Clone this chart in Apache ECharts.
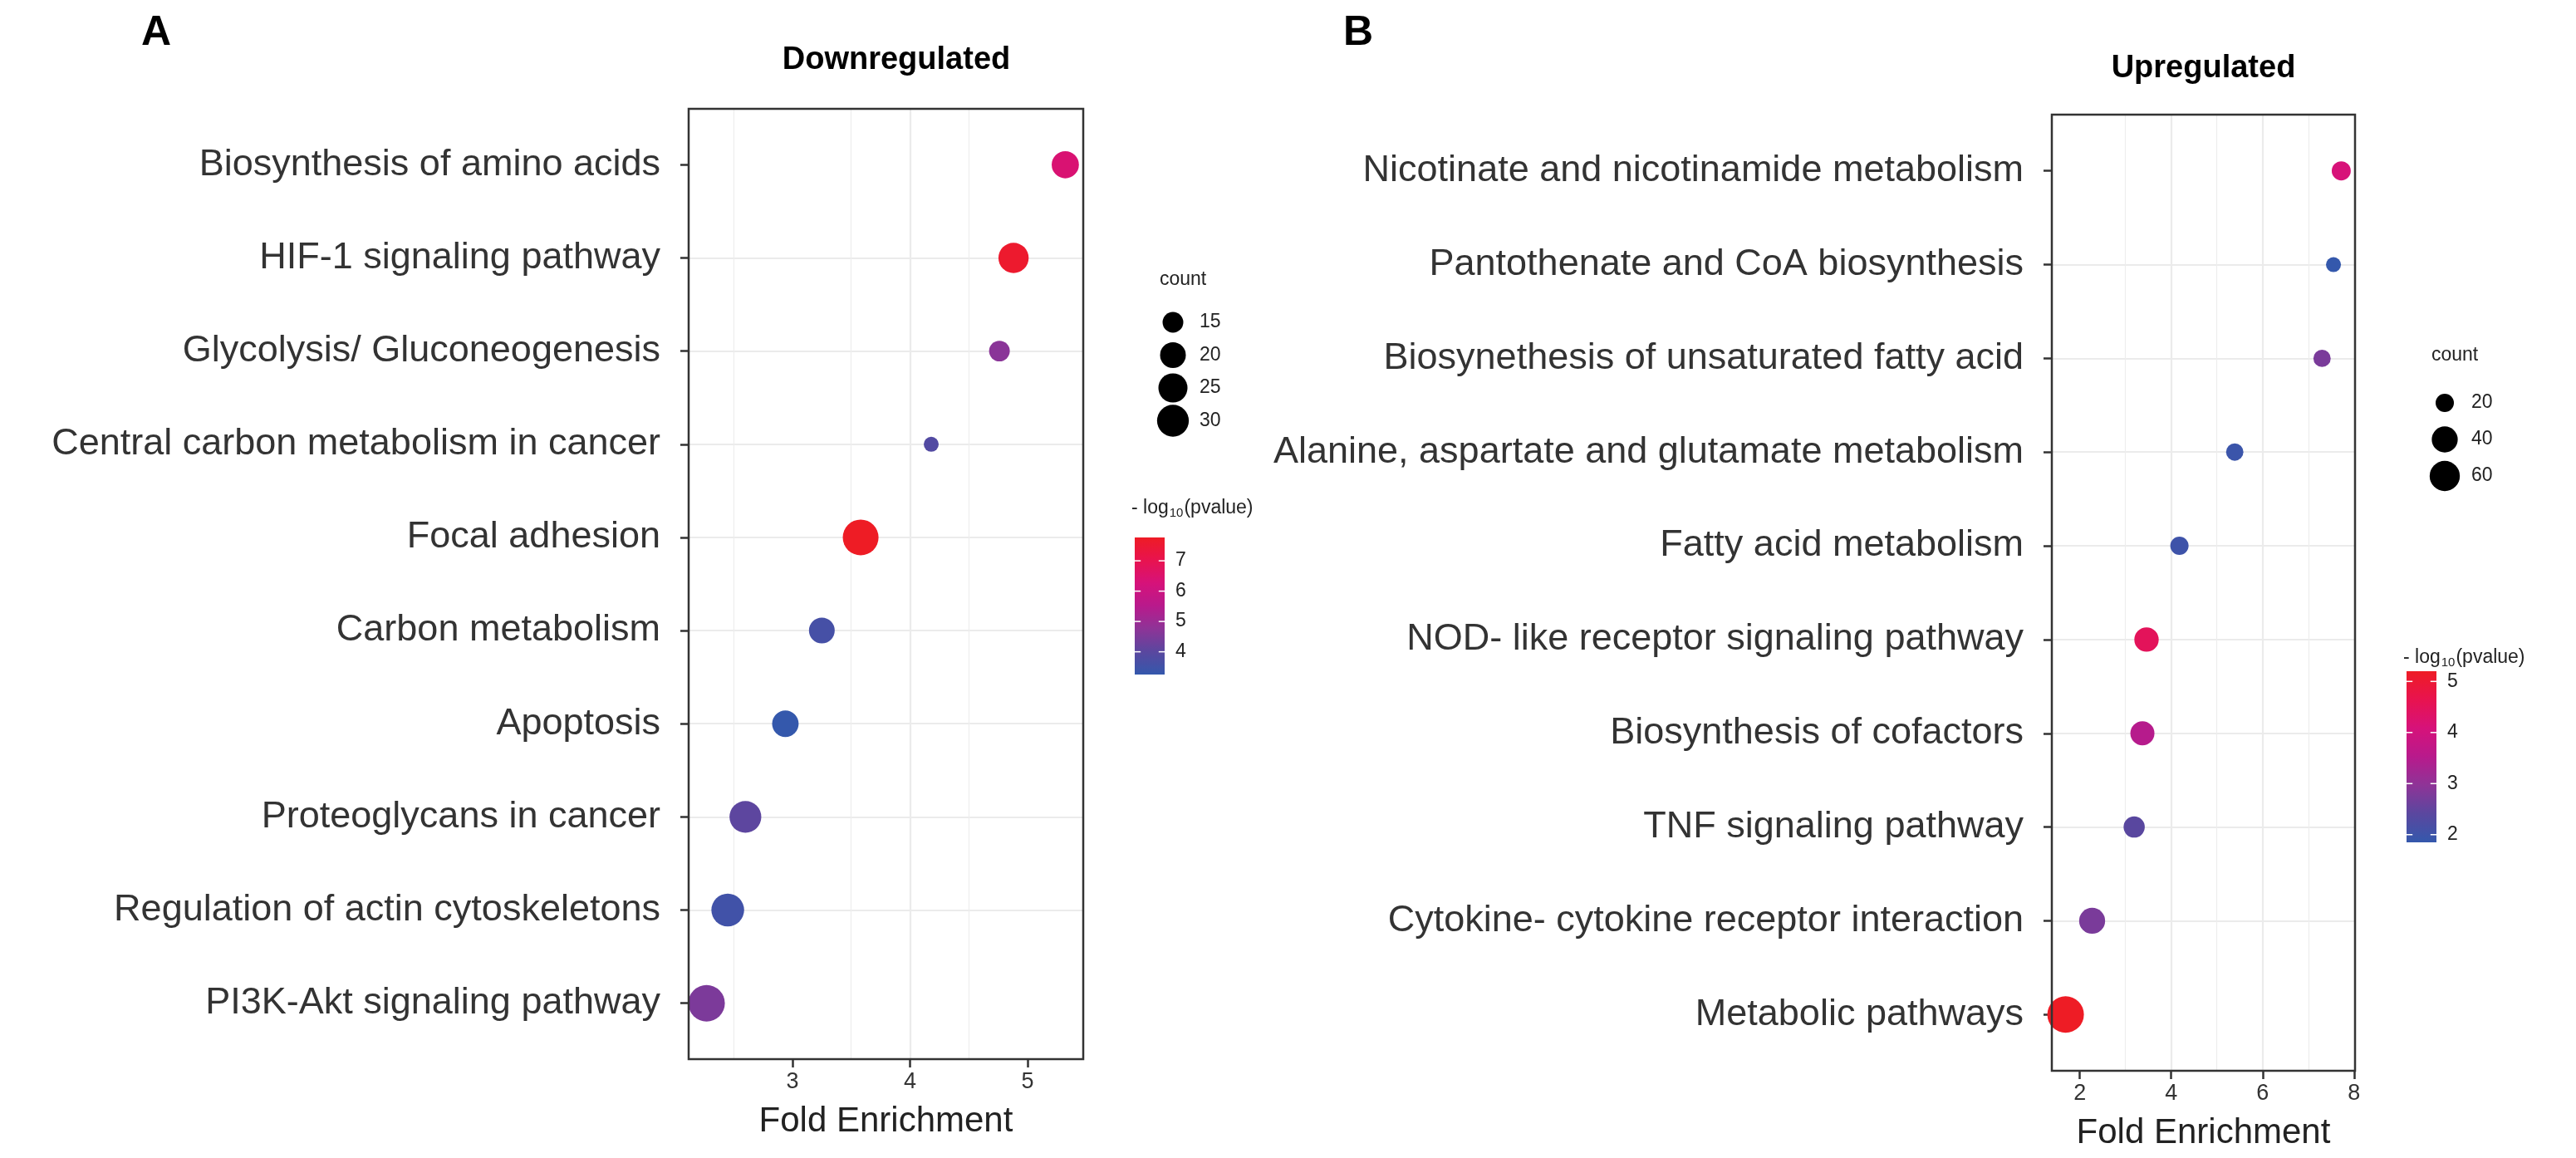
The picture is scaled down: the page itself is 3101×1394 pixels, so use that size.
<!DOCTYPE html>
<html><head><meta charset="utf-8">
<script src="https://cdn.jsdelivr.net/npm/echarts@6/dist/echarts.min.js"></script>
<style>html,body{margin:0;padding:0;background:#fff}#c{width:3101px;height:1394px}</style>
</head><body><div id="c"></div>
<script>
// ---------------- DATA ----------------
const downCategories = ['Biosynthesis of amino acids','HIF-1 signaling pathway','Glycolysis/ Gluconeogenesis','Central carbon metabolism in cancer','Focal adhesion','Carbon metabolism','Apoptosis','Proteoglycans in cancer','Regulation of actin cytoskeletons','PI3K-Akt signaling pathway'];
const downFold  = [5.32, 4.88, 4.76, 4.18, 3.58, 3.25, 2.94, 2.60, 2.45, 2.27];
const downCount = [22, 27, 15, 13, 39, 20, 21, 30, 32, 41];
const downLogP  = [6.4, 7.6, 4.7, 3.85, 7.77, 3.6, 3.25, 4.05, 3.5, 4.5];

const upCategories = ['Nicotinate and nicotinamide metabolism','Pantothenate and CoA biosynthesis','Biosynethesis of unsaturated fatty acid','Alanine, aspartate and glutamate metabolism','Fatty acid metabolism','NOD- like receptor signaling pathway','Biosynthesis of cofactors','TNF signaling pathway','Cytokine- cytokine receptor interaction','Metabolic pathways'];
const upFold  = [7.72, 7.55, 7.30, 5.39, 4.18, 3.46, 3.37, 3.19, 2.27, 1.69];
const upCount = [21, 18, 19, 19, 20, 34, 33, 25, 40, 102];
const upLogP  = [4.1, 1.85, 2.75, 1.95, 2.0, 4.5, 3.5, 2.4, 2.75, 5.2];

const downXTicks = [3, 4, 5];
const downXMinor = [2.5, 3.5, 4.5];
const upXTicks = [2, 4, 6, 8];
const upXMinor = [3, 5, 7];
const downSizeBreaks = [15, 20, 25, 30];
const upSizeBreaks = [20, 40, 60];
const downColorTicks = [4, 5, 6, 7];
const upColorTicks = [2, 3, 4, 5];
const gradientColors = ['#3458ac', '#5a479f', '#8e3497', '#b81a8c', '#d6127a', '#e8134f', '#ee1c25'];

// ---------------- LAYOUT ----------------
const FONT = "'Liberation Sans', Arial, Helvetica, sans-serif";
const GA = {left: 829, top: 131, width: 475, height: 1144};
const GB = {left: 2470, top: 138, width: 365, height: 1151};

function ext(arr) {
  const mn = Math.min(...arr), mx = Math.max(...arr), pad = (mx - mn) * 0.05;
  return [mn - pad, mx + pad];
}
function sizeFn(counts, dmin, dmax) {
  const cmin = Math.min(...counts), cmax = Math.max(...counts);
  return c => dmin + (dmax - dmin) * Math.sqrt(Math.max(0, (c - cmin) / (cmax - cmin)));
}
const sizeA = sizeFn(downCount, 18, 44);
const sizeB = sizeFn(upCount, 18, 44);
const xA = ext(downFold), xB = ext(upFold);
const pA = [Math.min(...downLogP), Math.max(...downLogP)];
const pB = [Math.min(...upLogP), Math.max(...upLogP)];

const idx = n => Array.from({length: n}, (_, i) => i);

function yAxisFor(gi, cats) {
  return {
    gridIndex: gi, type: 'value', inverse: true, min: -0.6, max: cats.length - 0.4,
    minInterval: 1, maxInterval: 1, splitNumber: cats.length,
    axisLine: {show: false, onZero: false},
    axisTick: {show: true, length: 10, lineStyle: {color: '#333', width: 2.5}, customValues: idx(cats.length)},
    axisLabel: {customValues: idx(cats.length), fontSize: 45, fontFamily: FONT, color: '#333', margin: 34,
      formatter: v => (Math.abs(v - Math.round(v)) < 1e-6 && cats[Math.round(v)]) ? cats[Math.round(v)] : ''},
    splitLine: {show: true, showMinLine: false, showMaxLine: false, lineStyle: {color: '#ebebeb', width: 2.2}}
  };
}
function xAxisFor(gi, range, ticks, step, gap) {
  return {
    gridIndex: gi, type: 'value', min: range[0], max: range[1],
    minInterval: step, maxInterval: step,
    axisLine: {show: false, onZero: false},
    axisTick: {show: true, length: 10, lineStyle: {color: '#333', width: 2.5}, customValues: ticks},
    axisLabel: {customValues: ticks, fontSize: 27, fontFamily: FONT, color: '#333', margin: 14,
      formatter: v => ticks.some(t => Math.abs(t - v) < 1e-6) ? String(v) : ''},
    splitLine: {show: true, showMinLine: false, showMaxLine: false, lineStyle: {color: '#ebebeb', width: 2.2}},
    name: 'Fold Enrichment', nameLocation: 'middle', nameGap: gap,
    nameTextStyle: {fontSize: 42, fontFamily: FONT, color: '#222'}
  };
}
function minorSeries(xi, yi, vals) {
  return {
    type: 'scatter', xAxisIndex: xi, yAxisIndex: yi, data: [], z: 1, silent: true,
    markLine: {silent: true, z: 1, symbol: ['none', 'none'], label: {show: false}, animation: false,
      lineStyle: {color: '#ededed', width: 1.2, type: 'solid'},
      data: vals.map(v => ({xAxis: v}))}
  };
}

// ---------------- LEGEND GRAPHICS ----------------
const meas = document.createElement('canvas').getContext('2d');
function tw(text, size) { meas.font = size + 'px ' + FONT; return meas.measureText(text).width; }
function txt(text, x, y, size, opts) {
  opts = opts || {};
  return {type: 'text', x: x, y: y, silent: true, z: 100,
    style: Object.assign({text: text, fontSize: size, fontFamily: FONT, fill: opts.fill || '#222',
      fontWeight: opts.bold ? 'bold' : 'normal',
      textAlign: opts.align || 'left', align: opts.align || 'left',
      textVerticalAlign: 'middle', verticalAlign: 'middle'})};
}
function pvalTitle(x, y) {
  const s = 23, ss = 15;
  const a = '- log', b = '10', c = '(pvalue)';
  const wa = tw(a, s), wb = tw(b, ss);
  return [txt(a, x, y, s), txt(b, x + wa + 1, y + 6, ss), txt(c, x + wa + wb + 2, y, s)];
}
function colorbar(x, y, w, h, range, ticks) {
  const els = [];
  const stops = gradientColors.map((c, i) => ({offset: i / (gradientColors.length - 1), color: c}));
  els.push({type: 'rect', shape: {x: x, y: y, width: w, height: h}, silent: true, z: 100,
    style: {fill: new echarts.graphic.LinearGradient(0, 1, 0, 0, stops)}});
  ticks.forEach(t => {
    const ty = y + h - (t - range[0]) / (range[1] - range[0]) * h;
    els.push({type: 'line', shape: {x1: x, y1: ty, x2: x + w * 0.2, y2: ty}, silent: true, z: 101, style: {stroke: '#fff', lineWidth: 1.5}});
    els.push({type: 'line', shape: {x1: x + w * 0.8, y1: ty, x2: x + w, y2: ty}, silent: true, z: 101, style: {stroke: '#fff', lineWidth: 1.5}});
    els.push(txt(String(t), x + w + 13, ty, 23, {fill: '#222'}));
  });
  return els;
}
function sizeLegend(x, yTitle, yFirst, breaks, fn, spacing) {
  const els = [txt('count', x, yTitle, 23)];
  breaks.forEach((b, i) => {
    const cy = yFirst + i * spacing;
    els.push({type: 'circle', shape: {cx: x + 16, cy: cy, r: fn(b) / 2}, silent: true, z: 100, style: {fill: '#000'}});
    els.push(txt(String(b), x + 48, cy, 23));
  });
  return els;
}

const axRightA = GA.left + GA.width, axRightB = GB.left + GB.width;
const cbA = {x: axRightA + 62, y: 647, w: 36, h: 165};
const cbB = {x: axRightB + 62, y: 808, w: 36, h: 206};

let graphics = [];
graphics.push(txt('A', 188, 40, 50, {bold: true, align: 'center', fill: '#000'}));
graphics.push(txt('B', 1635, 40, 50, {bold: true, align: 'center', fill: '#000'}));
graphics.push(txt('Downregulated', 1079, 73, 38, {bold: true, align: 'center', fill: '#000'}));
graphics.push(txt('Upregulated', GB.left + GB.width / 2, 83, 38, {bold: true, align: 'center', fill: '#000'}));
graphics = graphics.concat(sizeLegend(cbA.x + 30, 337, 388, downSizeBreaks, sizeA, 39.5));
graphics = graphics.concat(pvalTitle(cbA.x - 4, 612));
graphics = graphics.concat(colorbar(cbA.x, cbA.y, cbA.w, cbA.h, pA, downColorTicks));
graphics = graphics.concat(sizeLegend(cbB.x + 30, 428, 485, upSizeBreaks, sizeB, 44));
graphics = graphics.concat(pvalTitle(cbB.x - 4, 792));
graphics = graphics.concat(colorbar(cbB.x, cbB.y, cbB.w, cbB.h, pB, upColorTicks));

// ---------------- CHART ----------------
const chart = echarts.init(document.getElementById('c'), null, {renderer: 'canvas'});
const gridStyle = {show: true, borderColor: '#333', borderWidth: 2.5, backgroundColor: 'transparent', containLabel: false, z: 10};
chart.setOption({
  animation: false,
  backgroundColor: '#fff',
  grid: [Object.assign({}, GA, gridStyle), Object.assign({}, GB, gridStyle)],
  xAxis: [xAxisFor(0, xA, downXTicks, 1, 54), xAxisFor(1, xB, upXTicks, 2, 54)],
  yAxis: [yAxisFor(0, downCategories), yAxisFor(1, upCategories)],
  visualMap: [
    {type: 'continuous', show: false, seriesIndex: 2, dimension: 3, min: pA[0], max: pA[1], inRange: {color: gradientColors}},
    {type: 'continuous', show: false, seriesIndex: 3, dimension: 3, min: pB[0], max: pB[1], inRange: {color: gradientColors}}
  ],
  series: [
    minorSeries(0, 0, downXMinor),
    minorSeries(1, 1, upXMinor),
    {type: 'scatter', xAxisIndex: 0, yAxisIndex: 0, z: 3,
      data: downFold.map((f, i) => [f, i, downCount[i], downLogP[i]]),
      symbolSize: v => sizeA(v[2]), itemStyle: {opacity: 1}},
    {type: 'scatter', xAxisIndex: 1, yAxisIndex: 1, z: 3,
      data: upFold.map((f, i) => [f, i, upCount[i], upLogP[i]]),
      symbolSize: v => sizeB(v[2]), itemStyle: {opacity: 1}}
  ],
  graphic: graphics
});
</script></body></html>
